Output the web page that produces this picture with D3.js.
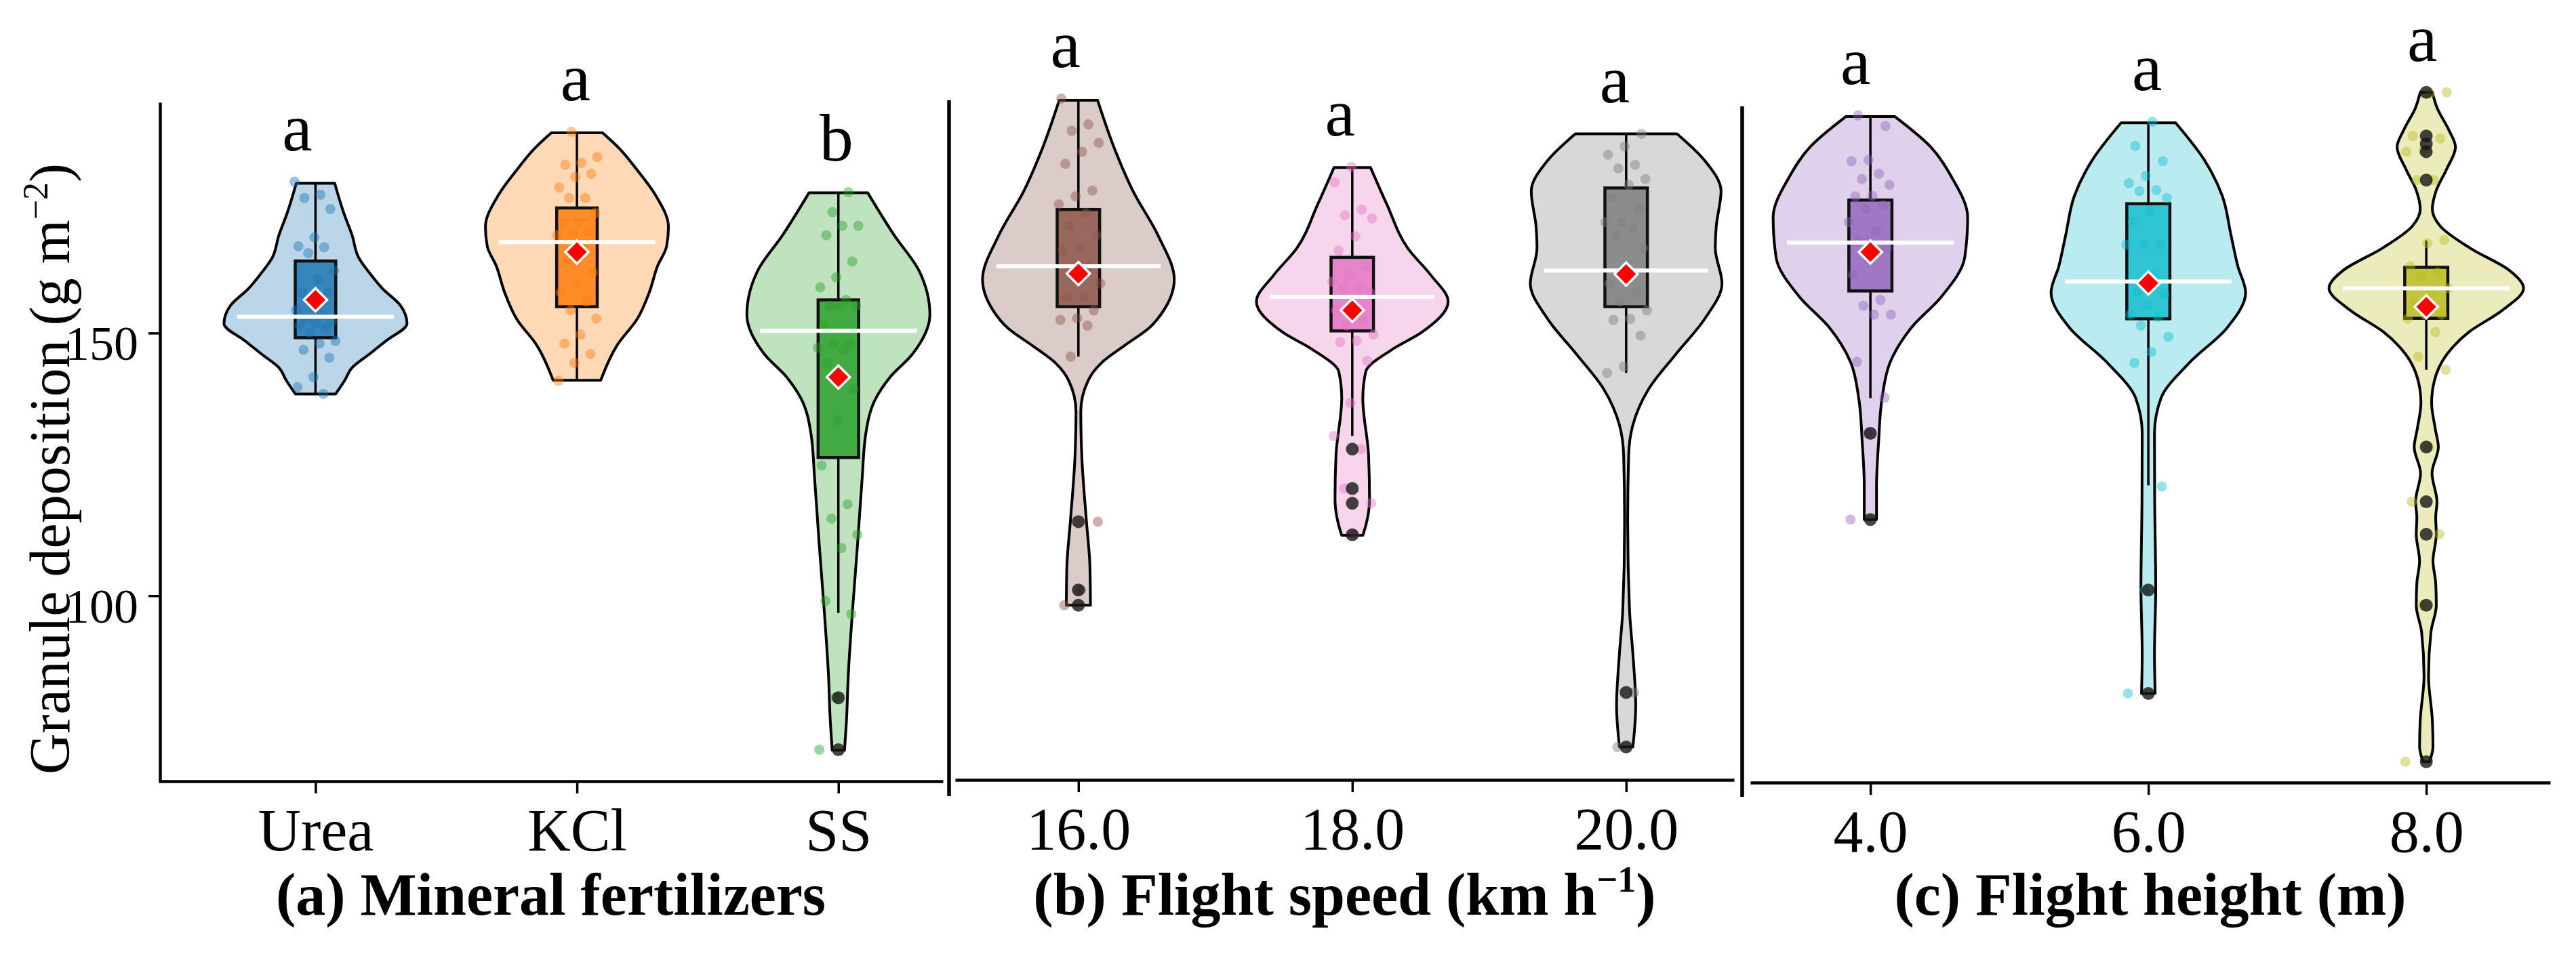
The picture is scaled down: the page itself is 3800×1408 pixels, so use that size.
<!DOCTYPE html>
<html>
<head>
<meta charset="UTF-8">
<title>Granule deposition</title>
<script src="https://d3js.org/d3.v7.min.js"></script>
<style>
html,body{margin:0;padding:0;background:#fff;}
svg text{font-family:"Liberation Serif","DejaVu Serif",serif;fill:#000;}
</style>
</head>
<body>
<div id="container"></div>
<script>
// ---- data ----
const catA = ['Urea', 'KCl', 'SS'];
const catB = ['16.0', '18.0', '20.0'];
const catC = ['4.0', '6.0', '8.0'];
const lettersA = ['a', 'a', 'b'];
const lettersB = ['a', 'a', 'a'];
const lettersC = ['a', 'a', 'a'];
const yTicks = [100, 150];

// raw observations (jittered dots)
const ptsUrea = [178.8,176.3,175.7,173.6,168.2,166.5,166.3,165.2,161.9,160.2,157.7,157.7,156.0,154.3,153.5,152.7,152.2,151.8,151.4,151.0,150.1,148.5,148.0,146.8,145.3,141.6,139.7,138.4];
const ptsKCl = [188.3,183.5,182.4,182.0,180.3,179.7,177.7,175.7,175.7,172.8,171.1,171.1,169.4,169.0,168.6,166.9,163.6,161.5,159.4,157.7,156.0,154.3,152.7,149.7,148.0,146.0,144.3,140.9];
const ptsSS = [176.8,173.0,170.4,170.4,168.6,163.6,160.6,158.7,156.3,155.2,155.2,155.2,151.4,148.0,148.0,147.2,146.8,144.3,139.3,133.4,124.8,117.4,114.7,111.6,109.1,99.0,96.5,80.6,70.7];
const pts16 = [194.6,189.7,188.5,186.2,184.5,182.2,177.1,176.0,174.5,172.8,170.3,168.6,166.1,165.7,162.7,161.1,159.4,156.9,156.9,154.3,152.8,152.5,151.4,145.5,114.1,101.1,98.2];
const pts18 = [181.6,178.7,173.5,172.4,171.8,168.4,165.7,162.7,161.1,159.8,158.5,158.5,157.7,156.0,154.3,152.2,151.4,149.7,148.5,148.3,144.7,136.7,130.4,127.9,120.4,117.6,111.6];
const pts20 = [187.9,185.5,183.9,182.0,181.3,179.3,178.2,175.7,173.6,171.1,171.1,169.9,168.6,166.1,162.7,159.4,157.7,156.0,154.3,152.7,152.5,149.5,143.6,142.4,81.6,71.2];
const pts4 = [191.4,189.4,182.9,182.7,180.3,179.3,178.2,176.1,176.0,174.3,173.6,171.1,169.4,167.7,166.1,164.0,161.1,156.3,155.2,153.5,153.5,144.5,137.7,130.9,114.5];
const pts6 = [190.2,185.6,182.7,179.9,178.5,177.2,177.0,175.7,173.2,171.1,166.8,166.8,166.8,161.1,157.7,157.3,155.2,153.5,153.1,151.4,149.3,146.4,144.3,120.8,101.1,81.4];
const pts8 = [195.8,195.6,187.5,187.0,184.7,184.5,179.1,179.1,167.7,167.1,162.7,161.5,160.6,158.5,157.7,155.6,153.5,153.5,152.7,150.2,145.5,143.0,128.3,117.9,111.7,98.2,68.4];

// violin outlines: [value, relative density (max = 1)]
const profUrea = [[178.5,.21],[172.8,.31],[168.6,.40],[164.4,.47],[161.0,.61],[158.5,.73],[155.2,.93],[151.8,1.0],[148.5,.77],[146.0,.59],[143.4,.40],[141.0,.32],[138.4,.22]];
const profKCl = [[188.1,.28],[185.0,.47],[181.2,.65],[176.2,.86],[170.2,1.0],[166.5,.98],[162.7,.88],[157.7,.79],[152.7,.66],[147.7,.44],[141.0,.26]];
const profSS = [[176.7,.32],[168.6,.61],[161.9,.88],[153.5,1.0],[146.0,.81],[141.5,.56],[137.6,.41],[130.9,.30],[122.4,.26],[109.9,.21],[97.3,.155],[84.8,.108],[76.4,.089],[70.6,.067]];
const prof16 = [[194.3,.20],[185.4,.37],[177.0,.57],[168.6,.83],[160.2,1.0],[154.3,.89],[151.0,.74],[147.6,.48],[144.3,.24],[140.9,.10],[135.1,.025],[126.7,.035],[114.1,.084],[105.7,.12],[98.2,.126]];
const prof18 = [[181.5,.19],[174.5,.36],[166.1,.58],[161.0,.82],[156.0,1.0],[150.2,.73],[146.8,.41],[142.6,.14],[137.6,.11],[126.7,.17],[118.3,.18],[113.3,.14],[111.5,.11]];
const prof20 = [[187.9,.53],[182.8,.82],[177.0,.99],[170.3,.94],[166.1,.93],[159.4,1.0],[152.7,.82],[146.0,.52],[139.2,.23],[132.5,.07],[126.7,.026],[114.1,.016],[97.3,.035],[89.0,.07],[79.0,.10],[71.2,.07]];
const prof4 = [[191.2,.25],[185.4,.62],[179.5,.84],[172.0,1.0],[164.4,.97],[156.9,.73],[151.0,.42],[144.3,.20],[137.6,.12],[129.2,.084],[120.8,.063],[114.5,.063]];
const prof6 = [[190.0,.28],[182.8,.58],[176.1,.76],[168.6,.85],[162.7,.92],[157.7,1.0],[151.0,.81],[144.3,.42],[137.6,.13],[130.9,.063],[118.3,.065],[101.5,.076],[89.0,.063],[81.4,.07]];
const prof8 = [[195.8,.062],[192.9,.11],[188.7,.23],[185.4,.30],[181.2,.21],[177.0,.10],[173.6,.062],[170.3,.145],[166.1,.455],[161.9,.855],[158.5,1.0],[154.3,.78],[150.2,.44],[145.9,.21],[140.9,.083],[136.7,.055],[131.7,.093],[128.3,.124],[123.3,.059],[117.9,.11],[114.9,.097],[111.7,.103],[106.6,.069],[102.4,.097],[98.2,.103],[93.1,.048],[84.7,.023],[76.4,.062],[71.3,.069],[68.4,.034]];

// box statistics per group (Urea, KCl, SS, 16, 18, 20, 4, 6, 8)
const q1s   = [149.1,155.0,126.3,155.0,150.4,155.0,158.0,152.7,152.8];
const meds  = [153.1,167.3,150.4,162.7,156.9,161.9,167.2,159.8,158.5];
const q3s   = [163.7,173.8,156.3,173.5,164.4,177.6,175.3,174.6,162.5];
const wLos  = [138.4,141.0,96.7,145.5,130.4,142.4,137.6,121.0,143.0];
const wHis  = [178.5,188.1,176.7,194.3,181.5,187.9,191.2,190.0,167.6];
const means = [156.3,165.4,141.6,161.3,154.3,161.2,165.4,159.5,155.0];
const fliers = [[],[],[80.6,70.7],[114.1,101.1,98.2],[127.9,120.4,117.6,111.6],[81.6,71.2],[130.9,114.5],[101.1,81.4],
                [195.8,187.5,186.0,184.5,179.1,128.3,117.9,111.7,98.2,68.4]];

// ---- layout ----
const colors = ['#1f77b4','#ff7f0e','#2ca02c','#8c564b','#e377c2','#7f7f7f','#9467bd','#17becf','#bcbd22'];
const panels = [
  {cats: catA, letters: lettersA, x0: 234, x1: 1391, dom: [-0.6, 2.4], axisY: 1153,
   title: ['(a) Mineral fertilizers', '', '']},
  {cats: catB, letters: lettersB, x0: 1409, x1: 2558, dom: [-0.45, 2.394], axisY: 1151,
   title: ['(b) Flight speed (km h', '\u22121', ')']},
  {cats: catC, letters: lettersC, x0: 2582, x1: 3762, dom: [-0.432, 2.446], axisY: 1155,
   title: ['(c) Flight height (m)', '', '']}
];
const groupPts = [ptsUrea, ptsKCl, ptsSS, pts16, pts18, pts20, pts4, pts6, pts8];
const groupProf = [profUrea, profKCl, profSS, prof16, prof18, prof20, prof4, prof6, prof8];
const letterNudge = [-27, -2, -3, -19, -18, -17, -22, -2, -6];

const svg = d3.select('#container').append('svg')
  .attr('width', 3800).attr('height', 1408);
svg.append('rect').attr('width', 3800).attr('height', 1408).attr('fill', '#fff');

const yScale = d3.scaleLinear().domain([64.7, 193.9]).range([1153, 151]);

// y axis (panel a only)
const yAxis = svg.append('g')
  .attr('transform', 'translate(236,0)')
  .call(d3.axisLeft(yScale).tickValues(yTicks).tickSize(17).tickSizeOuter(0).tickPadding(15));
yAxis.select('.domain').attr('stroke-width', 4.5);
yAxis.selectAll('.tick line').attr('stroke-width', 3.5);
yAxis.selectAll('.tick text').attr('font-size', 72).attr('y', 16)
  .style('font-family', '"Liberation Serif", serif');

svg.append('text')
  .attr('transform', 'translate(102,692) rotate(-90)')
  .attr('text-anchor', 'middle').attr('font-size', 84)
  .call(t => {
    t.append('tspan').text('Granule deposition (g m');
    t.append('tspan').attr('font-size', 52).attr('dy', -32).text('\u22122');
    t.append('tspan').attr('dy', 32).text(')');
  });

// panel separators
[[1400, 148, 1175], [2570, 157, 1176]].forEach(s => {
  svg.append('line').attr('x1', s[0]).attr('x2', s[0]).attr('y1', s[1]).attr('y2', s[2])
    .attr('stroke', '#000').attr('stroke-width', 5.5);
});

const diamond = d3.symbol().type(d3.symbolSquare).size(580);

panels.forEach((p, pi) => {
  const xs = d3.scaleLinear().domain(p.dom).range([p.x0, p.x1]);
  const step = xs(1) - xs(0);

  const xAxis = svg.append('g')
    .attr('transform', `translate(0,${p.axisY})`)
    .call(d3.axisBottom(xs).tickValues([0, 1, 2]).tickFormat(i => p.cats[i])
      .tickSize(18).tickSizeOuter(0).tickPadding(22));
  xAxis.select('.domain').attr('stroke-width', 4.5);
  xAxis.selectAll('.tick line').attr('stroke-width', 3.5);
  xAxis.selectAll('.tick text').attr('font-size', 88)
    .style('font-family', '"Liberation Serif", serif');

  // panel title
  svg.append('text')
    .attr('x', (p.x0 + p.x1) / 2).attr('y', 1350)
    .attr('text-anchor', 'middle').attr('font-size', 88).attr('font-weight', 'bold')
    .call(t => {
      t.append('tspan').text(p.title[0]);
      if (p.title[1]) {
        t.append('tspan').attr('font-size', 54).attr('dy', -34).text(p.title[1]);
        t.append('tspan').attr('dy', 34).text(p.title[2]);
      }
    });

  p.cats.forEach((c, ci) => {
    const g = pi * 3 + ci;
    const cx = xs(ci);
    const col = colors[g];
    const maxHalf = 0.35 * step;

    // violin
    const area = d3.area()
      .y(d => yScale(d[0]))
      .x0(d => cx - d[1] * maxHalf)
      .x1(d => cx + d[1] * maxHalf)
      .curve(d3.curveMonotoneY);
    svg.append('path').datum(groupProf[g])
      .attr('d', area)
      .attr('fill', col).attr('fill-opacity', 0.3)
      .attr('stroke', '#000').attr('stroke-width', 4).attr('stroke-linejoin', 'round');

    // whiskers and box
    const bw = 0.155 * step;
    svg.append('line').attr('x1', cx).attr('x2', cx)
      .attr('y1', yScale(wHis[g])).attr('y2', yScale(q3s[g]))
      .attr('stroke', '#000').attr('stroke-width', 3.5);
    svg.append('line').attr('x1', cx).attr('x2', cx)
      .attr('y1', yScale(q1s[g])).attr('y2', yScale(wLos[g]))
      .attr('stroke', '#000').attr('stroke-width', 3.5);
    svg.append('rect')
      .attr('x', cx - bw / 2).attr('width', bw)
      .attr('y', yScale(q3s[g])).attr('height', yScale(q1s[g]) - yScale(q3s[g]))
      .attr('fill', col).attr('fill-opacity', 0.85)
      .attr('stroke', '#111').attr('stroke-width', 4.5);

    // jittered observations
    svg.append('g').selectAll('circle').data(groupPts[g]).join('circle')
      .attr('cx', (d, i) => cx + (((i * 0.618034 + g * 0.37) % 1) - 0.5) * 0.16 * step)
      .attr('cy', d => yScale(d))
      .attr('r', 7.5)
      .attr('fill', col).attr('fill-opacity', 0.45);

    // box-plot outliers
    svg.append('g').selectAll('circle').data(fliers[g]).join('circle')
      .attr('cx', cx).attr('cy', d => yScale(d)).attr('r', 9.5)
      .attr('fill', '#151515').attr('fill-opacity', 0.8);

    // median line
    svg.append('line')
      .attr('x1', cx - 0.3 * step).attr('x2', cx + 0.3 * step)
      .attr('y1', yScale(meds[g])).attr('y2', yScale(meds[g]))
      .attr('stroke', '#fff').attr('stroke-width', 6);

    // mean marker
    svg.append('path').attr('d', diamond)
      .attr('transform', `translate(${cx},${yScale(means[g])}) rotate(45)`)
      .attr('fill', '#ff0000').attr('stroke', '#fff').attr('stroke-width', 3.5);

    // significance letter
    const top = d3.max(groupPts[g].concat([wHis[g]]));
    svg.append('text')
      .attr('x', cx + letterNudge[g]).attr('y', yScale(top + 6))
      .attr('text-anchor', 'middle').attr('font-size', 100)
      .text(p.letters[ci]);
  });
});
</script>
</body>
</html>
